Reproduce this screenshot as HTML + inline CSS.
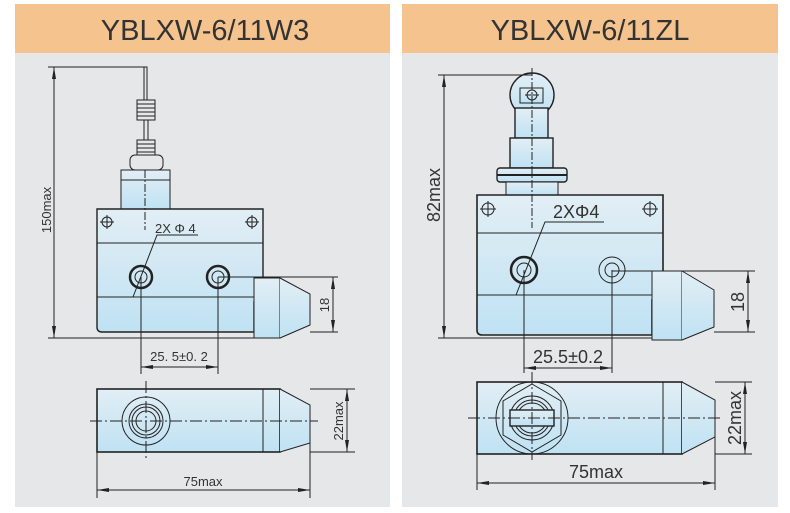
<!DOCTYPE html>
<html><head><meta charset="utf-8"><style>
html,body{margin:0;padding:0;background:#fff;width:790px;height:513px;overflow:hidden}
svg{display:block}
text{font-family:"Liberation Sans",sans-serif;fill:#333}
</style></head><body>
<svg width="790" height="513" viewBox="0 0 790 513" xmlns="http://www.w3.org/2000/svg">
<defs>
<linearGradient id="g" x1="0" y1="0" x2="0" y2="1"><stop offset="0" stop-color="#e2eef5"/><stop offset="1" stop-color="#bfe2f3"/></linearGradient>
<marker id="a" markerWidth="12" markerHeight="6" refX="12" refY="3" orient="auto-start-reverse" markerUnits="userSpaceOnUse"><path d="M0,1 L12,3 L0,5z" fill="#222"/></marker>
</defs>
<rect x="15" y="4" width="375" height="503" fill="#e6e7e9"/>
<rect x="402" y="4" width="376" height="503" fill="#e6e7e9"/>
<rect x="15" y="4" width="375" height="49" fill="#f5c38e"/>
<rect x="402" y="4" width="376" height="49" fill="#f5c38e"/>
<text x="205" y="40" font-size="29" text-anchor="middle">YBLXW-6/11W3</text>
<text x="590" y="40" font-size="29" text-anchor="middle">YBLXW-6/11ZL</text>

<g stroke="#222" fill="none" stroke-width="1">
<!-- LEFT front -->
<path d="M48,67 H147 V100" />
<line x1="144" y1="67" x2="144" y2="100"/>
<rect x="137" y="100" width="18" height="20" fill="#e6e7e9"/>
<path d="M137,104H155M137,108H155M137,112H155M137,116H155"/>
<line x1="144" y1="120" x2="144" y2="140"/><line x1="148" y1="120" x2="148" y2="140"/>
<rect x="137" y="140" width="18" height="15" fill="#e6e7e9"/>
<path d="M137,144H155M137,148H155M137,152H155"/>
<rect x="130" y="155" width="33" height="15" rx="5" fill="#e6e7e9"/>
<rect x="121" y="170" width="49" height="39" fill="url(#g)"/>
<line x1="121" y1="180" x2="170" y2="180"/>
<path d="M97,209H263V297H259V302H254V332H102Q97,332 97,327Z" fill="url(#g)" stroke-width="1.4"/>
<line x1="97" y1="243" x2="263" y2="243"/>
<line x1="97" y1="297" x2="259" y2="297"/>
<path d="M254,278H280V338H254Z" fill="url(#g)"/>
<path d="M280,278L310,294V325L280,338" fill="url(#g)"/>
<line x1="145" y1="170" x2="145" y2="230" stroke-dasharray="8,2,2,2"/>
<circle cx="107" cy="222" r="5"/><path d="M100,222H114M107,215V229"/>
<circle cx="252" cy="222" r="5"/><path d="M245,222H259M252,215V229"/>
<circle cx="141" cy="277" r="11" stroke-width="2.5"/><circle cx="141" cy="277" r="6"/>
<circle cx="218" cy="277" r="11" stroke-width="2.5"/><circle cx="218" cy="277" r="6"/>
<path d="M198,235H157L133,297"/>
<line x1="54" y1="67" x2="54" y2="338" marker-start="url(#a)" marker-end="url(#a)"/>
<line x1="48" y1="338" x2="254" y2="338"/>
<line x1="218" y1="277" x2="338" y2="277"/>
<line x1="310" y1="332" x2="338" y2="332"/>
<line x1="333" y1="277" x2="333" y2="332" marker-start="url(#a)" marker-end="url(#a)"/>
<line x1="141" y1="277" x2="141" y2="374"/><line x1="218" y1="277" x2="218" y2="374"/>
<line x1="141" y1="367" x2="218" y2="367" marker-start="url(#a)" marker-end="url(#a)"/>
<!-- LEFT bottom -->
<rect x="97" y="389" width="183" height="63" fill="url(#g)" stroke-width="1.6"/>
<line x1="263" y1="389" x2="263" y2="452"/>
<path d="M280,389L310,405V443L280,452" fill="url(#g)"/>
<circle cx="146" cy="421" r="24"/><circle cx="146" cy="421" r="17"/><circle cx="146" cy="421" r="14"/><circle cx="146" cy="421" r="10"/>
<line x1="90" y1="421" x2="318" y2="421" stroke-dasharray="12,3,2,3"/>
<line x1="146" y1="381" x2="146" y2="460" stroke-dasharray="12,3,2,3"/>
<line x1="310" y1="389" x2="355" y2="389"/><line x1="310" y1="452" x2="355" y2="452"/>
<line x1="347" y1="389" x2="347" y2="452" marker-start="url(#a)" marker-end="url(#a)"/>
<line x1="97" y1="452" x2="97" y2="498"/><line x1="310" y1="443" x2="310" y2="498"/>
<line x1="97" y1="490" x2="310" y2="490" marker-start="url(#a)" marker-end="url(#a)"/>

<!-- RIGHT front -->
<circle cx="532" cy="95" r="22" fill="url(#g)" stroke-width="1.4"/>
<rect x="515" y="108" width="33" height="30" fill="url(#g)" stroke-width="1.4"/>
<rect x="520" y="88" width="23" height="15" fill="url(#g)"/>
<circle cx="532" cy="95" r="5"/><path d="M525,95H539"/>
<rect x="510" y="138" width="43" height="30" fill="url(#g)" stroke-width="1.4"/>
<rect x="497" y="168" width="70" height="14" rx="3" fill="url(#g)" stroke-width="1.4"/>
<line x1="497" y1="175" x2="567" y2="175" stroke-width="2"/>
<rect x="506" y="182" width="52" height="13" fill="url(#g)"/>
<path d="M477,195H663V295H659V300H652V335H482Q477,335 477,330Z" fill="url(#g)" stroke-width="1.6"/>
<line x1="477" y1="233" x2="663" y2="233"/>
<line x1="477" y1="295" x2="659" y2="295"/>
<path d="M652,271H682V340H652Z" fill="url(#g)"/>
<path d="M682,271L714,290V327L682,340" fill="url(#g)"/>
<line x1="532" y1="68" x2="532" y2="228" stroke-dasharray="8,2,2,2"/>
<circle cx="488" cy="209" r="6"/><path d="M480,209H496M488,201V217"/>
<circle cx="650" cy="209" r="6"/><path d="M642,209H658M650,201V217"/>
<circle cx="524" cy="270" r="13" stroke-width="2.5"/><circle cx="524" cy="270" r="7"/>
<circle cx="612" cy="270" r="13"/><circle cx="612" cy="270" r="7"/>
<path d="M604,222H545L516,295"/>
<line x1="444" y1="75" x2="444" y2="338" marker-start="url(#a)" marker-end="url(#a)"/>
<line x1="438" y1="75" x2="532" y2="75"/>
<line x1="438" y1="338" x2="652" y2="338"/>
<line x1="612" y1="271" x2="755" y2="271"/>
<line x1="714" y1="332" x2="755" y2="332"/>
<line x1="748" y1="271" x2="748" y2="332" marker-start="url(#a)" marker-end="url(#a)"/>
<line x1="524" y1="270" x2="524" y2="373"/><line x1="612" y1="270" x2="612" y2="373"/>
<line x1="524" y1="368" x2="612" y2="368" marker-start="url(#a)" marker-end="url(#a)"/>
<!-- RIGHT bottom -->
<rect x="477" y="382" width="205" height="72" fill="url(#g)" stroke-width="1.6"/>
<line x1="663" y1="382" x2="663" y2="454"/>
<path d="M682,382L715,400V437L682,454" fill="url(#g)"/>
<circle cx="532" cy="418" r="36"/>
<polygon points="532,384 561,401 561,435 532,452 503,435 503,401"/>
<circle cx="532" cy="418" r="22"/><circle cx="532" cy="418" r="18"/><circle cx="532" cy="418" r="15"/>
<rect x="510" y="410" width="44" height="16" fill="url(#g)" stroke-width="1.4"/>
<line x1="468" y1="418" x2="722" y2="418" stroke-dasharray="12,3,2,3"/>
<line x1="532" y1="372" x2="532" y2="460" stroke-dasharray="12,3,2,3"/>
<line x1="715" y1="382" x2="752" y2="382"/><line x1="715" y1="454" x2="752" y2="454"/>
<line x1="745" y1="382" x2="745" y2="454" marker-start="url(#a)" marker-end="url(#a)"/>
<line x1="477" y1="454" x2="477" y2="490"/><line x1="715" y1="437" x2="715" y2="490"/>
<line x1="477" y1="483" x2="715" y2="483" marker-start="url(#a)" marker-end="url(#a)"/>
</g>

<g font-size="13">
<text x="155" y="233">2X Φ 4</text>
<text transform="translate(51,210) rotate(-90)" text-anchor="middle" font-size="13">150max</text>
<text transform="translate(329,305) rotate(-90)" text-anchor="middle">18</text>
<text x="179" y="361" text-anchor="middle" font-family="Liberation Mono" font-size="13">25. 5±0. 2</text>
<text transform="translate(343,421) rotate(-90)" text-anchor="middle">22max</text>
<text x="203" y="486" text-anchor="middle">75max</text>
</g>
<g font-size="18">
<text x="553" y="218">2XΦ4</text>
<text transform="translate(440,195) rotate(-90)" text-anchor="middle">82max</text>
<text transform="translate(744,302) rotate(-90)" text-anchor="middle">18</text>
<text x="568" y="363" text-anchor="middle">25.5±0.2</text>
<text transform="translate(741,418) rotate(-90)" text-anchor="middle">22max</text>
<text x="596" y="478" text-anchor="middle">75max</text>
</g>
</svg>
</body></html>
